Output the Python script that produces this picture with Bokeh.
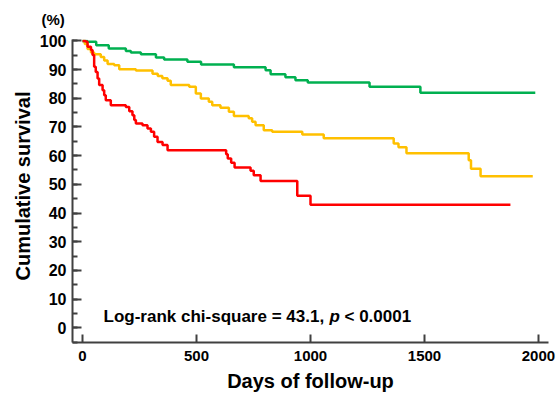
import math
from bokeh.plotting import figure
from bokeh.models import Label, SingleIntervalTicker, Range1d, Title
from bokeh.embed import file_html
from bokeh.resources import INLINE

# ---- data ----
green_days = [0, 22, 60, 115, 190, 212, 256, 322, 358, 460, 520, 664, 803, 825, 890, 934, 988, 1259, 1482, 1986]
green_surv = [100, 99.7, 98.5, 97.4, 96.5, 96.0, 95.4, 94.2, 93.5, 92.7, 91.8, 90.8, 89.8, 88.4, 87.3, 86.3, 85.5, 84.0, 81.9, 81.9]

orange_days = [0, 10, 22, 37, 51, 80, 95, 110, 139, 161, 234, 307, 330, 350, 373, 387, 468, 497, 519,
               554, 569, 605, 642, 664, 729, 744, 759, 795, 832, 964, 1058, 1365, 1386, 1421, 1694, 1704, 1746, 1975]
orange_surv = [100, 98.9, 97.2, 96.0, 95.4, 94.4, 93.2, 92.0, 91.5, 90.1, 89.7, 88.6, 87.8, 87.0, 86.1, 84.6, 84.0, 81.7, 79.9,
               78.8, 77.6, 76.7, 75.3, 73.8, 73.0, 71.8, 70.6, 68.9, 68.3, 67.4, 66.1, 64.2, 62.9, 60.8, 58.4, 55.4, 52.8, 52.8]

red_days = [0, 15, 22, 37, 44, 51, 58, 66, 73, 88, 95, 102, 124, 190, 205, 219, 227, 234, 263, 285, 300, 314, 329, 351, 373,
            630, 637, 652, 667, 737, 751, 781, 942, 1000, 1877]
red_surv = [100, 99.7, 98.0, 96.8, 95.1, 91.0, 89.2, 86.9, 84.6, 82.8, 81.1, 79.3, 77.6, 77.0, 75.5, 74.1, 72.4, 71.2, 70.6, 69.5,
            68.3, 66.6, 64.8, 63.7, 61.9, 60.5, 59.0, 57.5, 55.9, 54.7, 53.2, 51.2, 46.0, 42.9, 42.9]

x_ticks_interval = 500
y_ticks_interval = 10

AX = "#404040"
FONT = "Liberation Sans"

p = figure(width=557, height=395, output_backend="svg", toolbar_location=None,
           x_range=Range1d(-44, 2044), y_range=Range1d(-5.15, 100.5),
           min_border_left=72, min_border_right=9, min_border_top=39, min_border_bottom=53)
p.outline_line_color = None
p.xgrid.visible = False
p.ygrid.visible = False
p.background_fill_color = "white"
p.border_fill_color = "white"

p.step(orange_days, orange_surv, mode="after", line_color="#FFC000", line_width=2.5)
p.step(green_days, green_surv, mode="after", line_color="#00B050", line_width=2.5)
p.step(red_days, red_surv, mode="after", line_color="#FF0000", line_width=2.5)

p.xaxis.ticker = SingleIntervalTicker(interval=x_ticks_interval, num_minor_ticks=0)
p.yaxis.ticker = SingleIntervalTicker(interval=y_ticks_interval, num_minor_ticks=2)

for ax in (p.xaxis[0], p.yaxis[0]):
    ax.axis_line_color = AX
    ax.axis_line_width = 2
    ax.major_tick_line_color = AX
    ax.major_tick_line_width = 2
    ax.minor_tick_line_color = AX
    ax.minor_tick_line_width = 2
    ax.major_tick_out = 0
    ax.minor_tick_out = 0
    ax.major_label_text_font = FONT
    ax.major_label_text_font_style = "bold"
    ax.major_label_text_color = "black"
    ax.major_label_standoff = 6
    ax.axis_label_text_font = FONT
    ax.axis_label_text_font_style = "bold"
    ax.axis_label_text_font_size = "20px"
    ax.axis_label_text_color = "black"

p.xaxis.major_label_text_font_size = "15px"
p.xaxis.major_label_standoff = 8
p.yaxis.major_label_text_font_size = "16px"
p.xaxis.major_tick_in = 8
p.yaxis.major_tick_in = 9
p.yaxis.minor_tick_in = 5

p.xaxis.axis_label = "Days of follow-up"
p.xaxis.axis_label_standoff = 6

ytitle = Title(text="Cumulative survival", align="left", offset=62, text_font=FONT,
               text_font_style="bold", text_font_size="20px", text_color="black", standoff=6)
p.add_layout(ytitle, "left")

ptitle = Title(text="(%)", align="left", offset=-31, vertical_align="top", text_font=FONT,
               text_font_style="bold", text_font_size="15px", text_color="black", standoff=20)
p.add_layout(ptitle, "above")

def lab(**kw):
    base = dict(text_font=FONT, text_font_style="bold", text_color="black",
                text_font_size="17px", text_baseline="alphabetic", text_align="left")
    base.update(kw)
    p.add_layout(Label(**base))

lab(x=92, y=3.8, text="Log-rank chi-square = 43.1,")
lab(x=92, y=3.8, text="p", x_offset=226, text_font_style="bold italic")
lab(x=92, y=3.8, text="< 0.0001", x_offset=241)

open("out.html", "w").write(file_html(p, INLINE))
